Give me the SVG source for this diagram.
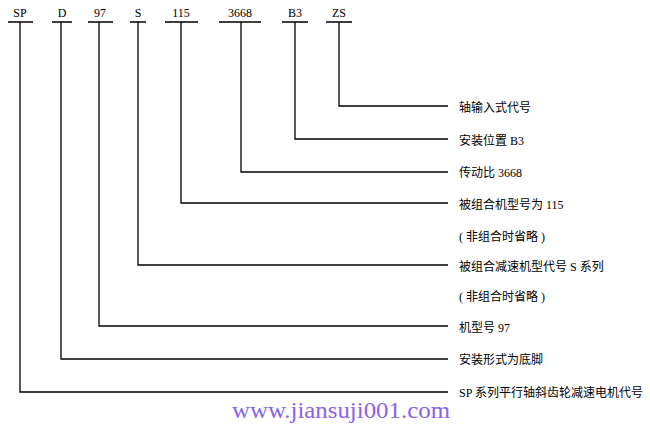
<svg xmlns="http://www.w3.org/2000/svg" width="650" height="425" viewBox="0 0 650 425">
<style>
.c{fill:none;stroke:#000;stroke-width:1.3}
.t{font-family:"Liberation Serif","Noto Sans CJK SC",serif;font-size:12px;fill:#000}
.l{font-family:"Liberation Serif","Noto Sans CJK SC",serif;font-size:12px;fill:#000}
.w{font-family:"Liberation Serif",serif;font-size:23px;fill:#8a63e8}
</style>
<rect width="650" height="425" fill="#fff"/>
<g id="connectors">
<path class="c" d="M8 22H33M20 22V392H448"/>
<path class="c" d="M52 22H72M61 22V359H448"/>
<path class="c" d="M88 22H113M99 22V326H448"/>
<path class="c" d="M130 22H146M138 22V265H448"/>
<path class="c" d="M165 22H198M181 22V203H448"/>
<path class="c" d="M219 22H261M241 22V172H448"/>
<path class="c" d="M282 22H308M295 22V139H448"/>
<path class="c" d="M326 22H352M339 22V106H448"/>
</g>
<g id="codes" text-anchor="middle">
<text class="t" x="20" y="17">SP</text>
<text class="t" x="62" y="17">D</text>
<text class="t" x="100" y="17">97</text>
<text class="t" x="138" y="17">S</text>
<text class="t" x="181" y="17">115</text>
<text class="t" x="240" y="17">3668</text>
<text class="t" x="295" y="17">B3</text>
<text class="t" x="339" y="17">ZS</text>
</g>
<g id="labels">
<text class="l" x="459" y="112">轴输入式代号</text>
<text class="l" x="459" y="145">安装位置 B3</text>
<text class="l" x="459" y="177">传动比 3668</text>
<text class="l" x="459" y="209">被组合机型号为 115</text>
<text class="l" x="459" y="241">( 非组合时省略 )</text>
<text class="l" x="459" y="271">被组合减速机型代号 S 系列</text>
<text class="l" x="459" y="301">( 非组合时省略 )</text>
<text class="l" x="459" y="332">机型号 97</text>
<text class="l" x="459" y="364">安装形式为底脚</text>
<text class="l" x="459" y="397">SP 系列平行轴斜齿轮减速电机代号</text>
</g>
<g id="watermark">
<text class="w" x="232" y="418" textLength="218" lengthAdjust="spacingAndGlyphs">www.jiansuji001.com</text>
</g>
</svg>
